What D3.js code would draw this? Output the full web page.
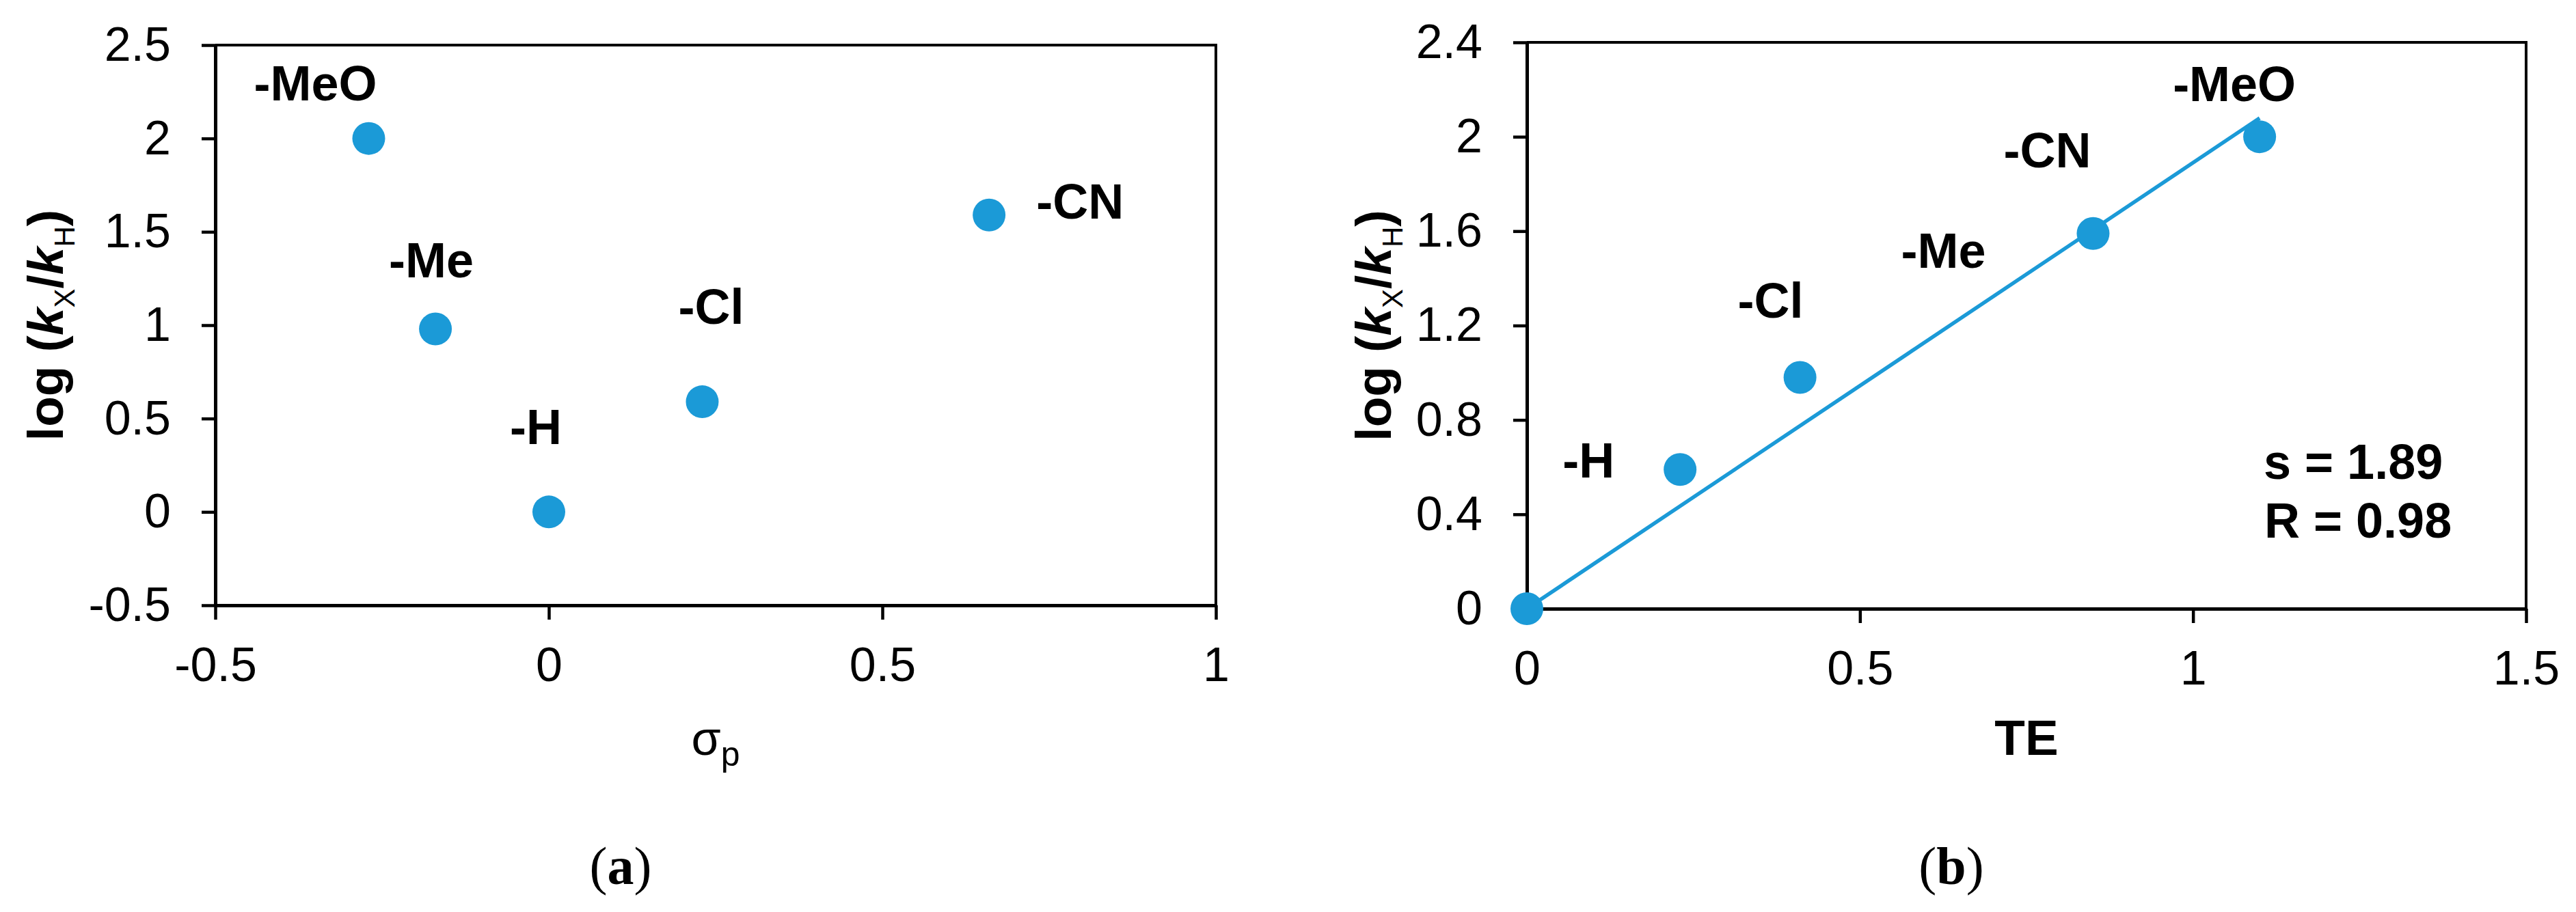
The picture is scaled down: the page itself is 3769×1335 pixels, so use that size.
<!DOCTYPE html>
<html>
<head>
<meta charset="utf-8">
<script src="https://cdn.jsdelivr.net/npm/d3@7"></script>
<style>
  html, body { margin: 0; padding: 0; background: #ffffff; }
  svg { display: block; }
</style>
</head>
<body>
<svg id="chart" width="3769" height="1335"></svg>
<script>
// ---------------- DATA ----------------
const substituentsA = ["-MeO", "-Me", "-H", "-Cl", "-CN"];
const sigmaP        = [-0.27, -0.17, 0, 0.23, 0.66];
const logRatioA     = [2.00, 0.98, 0, 0.59, 1.59];

const teValues      = [0, 0.23, 0.41, 0.85, 1.10];
const logRatioB     = [0, 0.59, 0.98, 1.59, 2.00];
const labelsB       = ["-H", "-Cl", "-Me", "-CN", "-MeO"];
const labelPointB   = [1, 2, 3, 3, 4];      // which point each label sits next to
const fitSlope      = 1.89;
const fitR          = 0.98;

const xTicksA      = [-0.5, 0, 0.5, 1];
const xTickLabelsA = ["-0.5", "0", "0.5", "1"];
const yTicksA      = [-0.5, 0, 0.5, 1, 1.5, 2, 2.5];
const yTickLabelsA = ["-0.5", "0", "0.5", "1", "1.5", "2", "2.5"];

const xTicksB      = [0, 0.5, 1, 1.5];
const xTickLabelsB = ["0", "0.5", "1", "1.5"];
const yTicksB      = [0, 0.4, 0.8, 1.2, 1.6, 2, 2.4];
const yTickLabelsB = ["0", "0.4", "0.8", "1.2", "1.6", "2", "2.4"];

// ---------------- LAYOUT / STYLE ----------------
const PA = { left: 315, right: 1779, top: 66, bottom: 886 };
const PB = { left: 2234, right: 3696, top: 62, bottom: 891 };
const labelOffsetA = [[-168, -56], [-68, -75], [-57, -99], [-35, -114], [69, 5]];
const labelOffsetB = [[-172, 12], [-91, -87], [-281, 50], [-131, -97], [-127, -52]];
const BLUE = "#1b9ad7";
const SANS = "'Liberation Sans', Arial, Helvetica, sans-serif";
const SERIF = "'Liberation Serif', 'Times New Roman', serif";

const svg = d3.select("#chart");
svg.append("rect").attr("width", 3769).attr("height", 1335).attr("fill", "#fff");

function drawFrame(P, x, y, xt, xl, yt, yl) {
  const g = svg.append("g");
  g.append("path")
    .attr("d", `M${P.left},${P.top}H${P.right}V${P.bottom}`)
    .attr("fill", "none").attr("stroke", "#000").attr("stroke-width", 4);
  const ax = g.append("g").attr("transform", `translate(0,${P.bottom})`)
    .call(d3.axisBottom(x).tickValues(xt).tickFormat((d, i) => xl[i])
      .tickSizeInner(21).tickSizeOuter(0).tickPadding(40));
  const ay = g.append("g").attr("transform", `translate(${P.left},0)`)
    .call(d3.axisLeft(y).tickValues(yt).tickFormat((d, i) => yl[i])
      .tickSizeInner(20).tickSizeOuter(0).tickPadding(45));
  [ax, ay].forEach(a => {
    a.select("path.domain").attr("stroke", "#000").attr("stroke-width", 5);
    a.selectAll(".tick line").attr("stroke", "#000").attr("stroke-width", 4.5);
    a.selectAll(".tick text").attr("font-family", SANS).attr("font-size", 70).attr("fill", "#000");
  });
  return g;
}

function yTitle(tx, ty) {
  const t = svg.append("text")
    .attr("transform", `translate(${tx},${ty}) rotate(-90)`)
    .attr("text-anchor", "middle")
    .attr("font-family", SANS).attr("font-size", 73).attr("font-weight", "bold").attr("fill", "#000");
  t.append("tspan").text("log (");
  t.append("tspan").attr("font-style", "italic").text("k");
  t.append("tspan").attr("font-size", 42).attr("font-weight", "normal").attr("dy", 17).text("X");
  t.append("tspan").attr("dy", -17).text("/");
  t.append("tspan").attr("font-style", "italic").text("k");
  t.append("tspan").attr("font-size", 42).attr("font-weight", "normal").attr("dy", 17).text("H");
  t.append("tspan").attr("dy", -17).text(")");
}

// ---------------- PANEL A ----------------
const xA = d3.scaleLinear().domain([-0.5, 1]).range([PA.left, PA.right]);
const yA = d3.scaleLinear().domain([-0.5, 2.5]).range([PA.bottom, PA.top]);
drawFrame(PA, xA, yA, xTicksA, xTickLabelsA, yTicksA, yTickLabelsA);

const ptsA = sigmaP.map((s, i) => ({ x: s, y: logRatioA[i], label: substituentsA[i], off: labelOffsetA[i] }));
svg.append("g").selectAll("circle").data(ptsA).join("circle")
  .attr("cx", d => xA(d.x)).attr("cy", d => yA(d.y)).attr("r", 24).attr("fill", BLUE);
svg.append("g").selectAll("text").data(ptsA).join("text")
  .attr("x", d => xA(d.x) + d.off[0]).attr("y", d => yA(d.y) + d.off[1])
  .attr("font-family", SANS).attr("font-size", 72).attr("font-weight", "bold").attr("fill", "#000")
  .text(d => d.label);

yTitle(92, (PA.top + PA.bottom) / 2);

const sx = svg.append("text")
  .attr("x", (PA.left + PA.right) / 2).attr("y", 1105)
  .attr("text-anchor", "middle").attr("font-family", SANS).attr("fill", "#000");
sx.append("tspan").attr("font-size", 70).text("σ");
sx.append("tspan").attr("font-size", 50).attr("dy", 16).text("p");

const capA = svg.append("text").attr("x", 908).attr("y", 1294)
  .attr("text-anchor", "middle").attr("font-family", SERIF).attr("font-size", 78).attr("fill", "#000");
capA.append("tspan").text("(");
capA.append("tspan").attr("font-weight", "bold").text("a");
capA.append("tspan").text(")");

// ---------------- PANEL B ----------------
const xB = d3.scaleLinear().domain([0, 1.5]).range([PB.left, PB.right]);
const yB = d3.scaleLinear().domain([0, 2.4]).range([PB.bottom, PB.top]);
drawFrame(PB, xB, yB, xTicksB, xTickLabelsB, yTicksB, yTickLabelsB);

const fitX = d3.extent(teValues);
svg.append("path")
  .datum(fitX.map(v => [v, fitSlope * v]))
  .attr("d", d3.line().x(d => xB(d[0])).y(d => yB(d[1])))
  .attr("fill", "none").attr("stroke", BLUE).attr("stroke-width", 5.5);

const ptsB = teValues.map((t, i) => ({ x: t, y: logRatioB[i] }));
svg.append("g").selectAll("circle").data(ptsB).join("circle")
  .attr("cx", d => xB(d.x)).attr("cy", d => yB(d.y)).attr("r", 24).attr("fill", BLUE);

const labB = labelsB.map((l, i) => ({ label: l, p: ptsB[labelPointB[i]], off: labelOffsetB[i] }));
svg.append("g").selectAll("text").data(labB).join("text")
  .attr("x", d => xB(d.p.x) + d.off[0]).attr("y", d => yB(d.p.y) + d.off[1])
  .attr("font-family", SANS).attr("font-size", 72).attr("font-weight", "bold").attr("fill", "#000")
  .text(d => d.label);

svg.append("text").attr("x", 3312).attr("y", 701)
  .attr("font-family", SANS).attr("font-size", 72).attr("font-weight", "bold").attr("fill", "#000")
  .text(`s = ${fitSlope.toFixed(2)}`);
svg.append("text").attr("x", 3313).attr("y", 787)
  .attr("font-family", SANS).attr("font-size", 72).attr("font-weight", "bold").attr("fill", "#000")
  .text(`R = ${fitR.toFixed(2)}`);

yTitle(2035, (PB.top + PB.bottom) / 2);

svg.append("text").attr("x", (PB.left + PB.right) / 2).attr("y", 1105)
  .attr("text-anchor", "middle").attr("font-family", SANS).attr("font-size", 73)
  .attr("font-weight", "bold").attr("fill", "#000").text("TE");

const capB = svg.append("text").attr("x", 2855).attr("y", 1294)
  .attr("text-anchor", "middle").attr("font-family", SERIF).attr("font-size", 78).attr("fill", "#000");
capB.append("tspan").text("(");
capB.append("tspan").attr("font-weight", "bold").text("b");
capB.append("tspan").text(")");
</script>
</body>
</html>
